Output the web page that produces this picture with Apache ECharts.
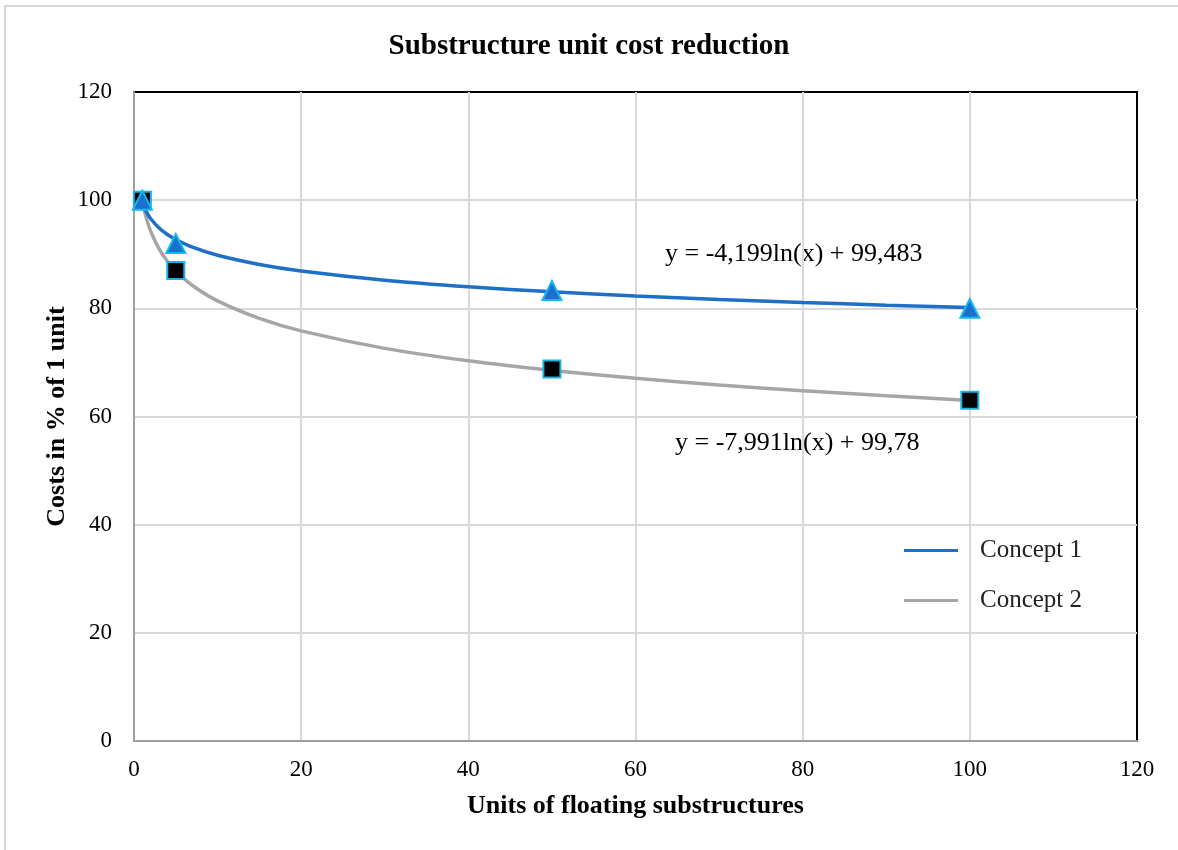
<!DOCTYPE html>
<html>
<head>
<meta charset="utf-8">
<script src="https://cdn.jsdelivr.net/npm/echarts@6/dist/echarts.min.js"></script>
<style>
  html, body { margin: 0; padding: 0; background: #fff; }
  #main { width: 1178px; height: 850px; }
</style>
</head>
<body>
<div id="main"></div>
<script>
var dom = document.getElementById('main');
var myChart = echarts.init(dom);

// measured points
var unitsPts = [1, 5, 50, 100];
var concept1Pts = [100, 92, 83.3, 80];
var concept2Pts = [100, 87, 68.8, 63];

// trend lines
var trendX = [1, 1.5, 2, 3, 4, 5, 7, 10, 15, 20, 30, 40, 50, 60, 70, 80, 90, 100];
var trend1Y = [99.48, 97.78, 96.57, 94.87, 93.66, 92.73, 91.31, 89.81, 88.11, 86.90, 85.20, 83.99, 83.06, 82.29, 81.64, 81.08, 80.59, 80.15];
var trend2Y = [99.78, 96.54, 94.24, 91.0, 88.70, 86.92, 84.23, 81.38, 78.14, 75.84, 72.60, 70.30, 68.52, 67.06, 65.83, 64.76, 63.82, 62.98];

var eq1 = 'y = -4,199ln(x) + 99,483';
var eq2 = 'y = -7,991ln(x) + 99,78';

var serif = '"Liberation Serif", "Times New Roman", serif';
var blue = '#1e6fc6';
var grey = '#a6a6a6';

function pairs(xs, ys) {
    return xs.map(function (x, i) { return [x, ys[i]]; });
}

var option = {
    backgroundColor: '#fff',
    animation: false,
    title: {
        text: 'Substructure unit cost reduction',
        left: 'center',
        top: 27,
        textStyle: { fontFamily: serif, fontSize: 29, fontWeight: 'bold', color: '#000' }
    },
    graphic: [
        { type: 'rect', shape: { x: 5, y: 6, width: 1300, height: 1000 },
          style: { fill: 'none', stroke: '#d9d9d9', lineWidth: 2 }, silent: true },
        { type: 'text', x: 665, y: 254,
          style: { text: eq1, font: '26px ' + serif, fill: '#000', verticalAlign: 'middle' } },
        { type: 'text', x: 675, y: 443,
          style: { text: eq2, font: '26px ' + serif, fill: '#000', verticalAlign: 'middle' } }
    ],
    legend: {
        orient: 'vertical',
        left: 904,
        top: 538,
        padding: 0,
        itemWidth: 54,
        itemHeight: 3,
        itemGap: 25,
        icon: 'rect',
        data: ['Concept 1', 'Concept 2'],
        textStyle: { fontFamily: serif, fontSize: 25, color: '#222', padding: [0, 0, 0, 17] }
    },
    grid: {
        left: 134, right: 41, top: 92, bottom: 109,
        show: true, borderColor: '#000', borderWidth: 2
    },
    xAxis: {
        type: 'value', min: 0, max: 120, interval: 20,
        name: 'Units of floating substructures',
        nameLocation: 'middle', nameGap: 52, nameMoveOverlap: false,
        nameTextStyle: { fontFamily: serif, fontSize: 26, fontWeight: 'bold', color: '#000' },
        axisLine: { lineStyle: { color: '#a0a0a0', width: 2 } },
        axisTick: { show: false },
        axisLabel: { fontFamily: serif, fontSize: 23, color: '#000', margin: 17 },
        splitLine: { showMaxLine: false, lineStyle: { color: '#d9d9d9', width: 2 } }
    },
    yAxis: {
        type: 'value', min: 0, max: 120, interval: 20,
        name: 'Costs in % of 1 unit',
        nameLocation: 'middle', nameGap: 64, nameMoveOverlap: false,
        nameTextStyle: { fontFamily: serif, fontSize: 26, fontWeight: 'bold', color: '#000' },
        axisLine: { show: true, lineStyle: { color: '#a0a0a0', width: 2 } },
        axisTick: { show: false },
        axisLabel: { fontFamily: serif, fontSize: 23, color: '#000', margin: 22 },
        splitLine: { showMaxLine: false, lineStyle: { color: '#d9d9d9', width: 2 } }
    },
    series: [
        {
            name: 'Concept 1', type: 'line', smooth: 0.3, showSymbol: false,
            data: pairs(trendX, trend1Y),
            itemStyle: { color: blue },
            lineStyle: { color: blue, width: 3.5 }, z: 3
        },
        {
            name: 'Concept 2', type: 'line', smooth: 0.3, showSymbol: false,
            data: pairs(trendX, trend2Y),
            itemStyle: { color: grey },
            lineStyle: { color: grey, width: 3.5 }, z: 2
        },
        {
            name: 'pts2', type: 'scatter', symbol: 'rect', symbolSize: 17,
            data: pairs(unitsPts, concept2Pts),
            itemStyle: { color: '#000', borderColor: '#17b2e6', borderWidth: 2, opacity: 1 }, z: 4
        },
        {
            name: 'pts1', type: 'scatter', symbol: 'triangle', symbolSize: 19,
            data: pairs(unitsPts, concept1Pts),
            itemStyle: { color: '#1b6fd0', borderColor: '#17b8ea', borderWidth: 2, opacity: 1 }, z: 5
        }
    ]
};
myChart.setOption(option);
</script>
</body>
</html>
